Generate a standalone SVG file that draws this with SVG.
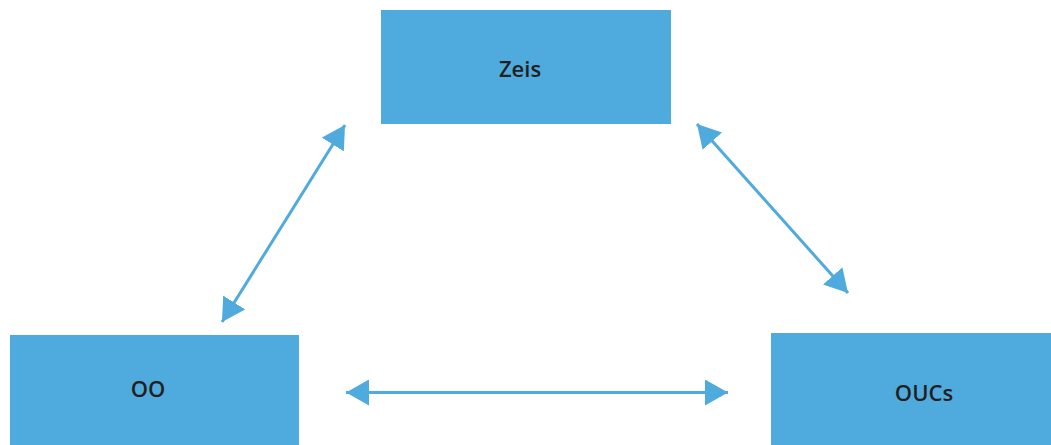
<svg xmlns="http://www.w3.org/2000/svg" width="1051" height="445" viewBox="0 0 1051 445">
<style>
.box{fill:#4FAADD;}
.lbl{font-family:"Open Sans","Liberation Sans",sans-serif;font-weight:600;font-size:22px;fill:#231F20;text-anchor:middle;}
.con{stroke:#4FAADD;stroke-width:3;fill:none;marker-start:url(#ah);marker-end:url(#ah);}
</style>
<defs>
<marker id="ah" markerUnits="userSpaceOnUse" markerWidth="24" markerHeight="26" refX="23" refY="13" orient="auto-start-reverse" viewBox="0 0 24 26">
<path d="M0,0 L23,13 L0,26 z" fill="#4FAADD"/>
</marker>
</defs>
<rect width="1051" height="445" fill="#FFFFFF"/>
<g id="zeis"><rect class="box" x="381" y="10" width="290" height="114"/><text class="lbl" x="520" y="77">Zeis</text></g>
<g id="oo"><rect class="box" x="10" y="335" width="289" height="110"/><text class="lbl" x="148" y="397">OO</text></g>
<g id="oucs"><rect class="box" x="771" y="333" width="280" height="112"/><text class="lbl" x="924" y="401">OUCs</text></g>
<g id="connectors">
<line class="con" x1="222" y1="322" x2="345" y2="125"/>
<line class="con" x1="697" y1="124" x2="848" y2="293"/>
<line class="con" x1="346" y1="392.5" x2="728" y2="392.5"/>
</g>
</svg>
